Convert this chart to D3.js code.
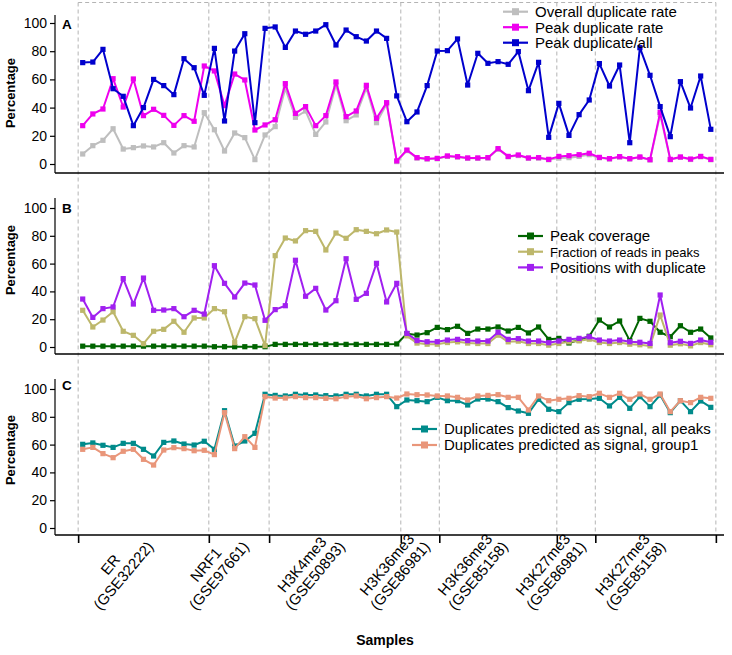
<!DOCTYPE html>
<html><head><meta charset="utf-8">
<script src="https://cdn.jsdelivr.net/npm/d3@7"></script>
<style>
body{margin:0;background:#fff}
svg{display:block}
text{font-family:"Liberation Sans",Arial,Helvetica,sans-serif;fill:#000}
</style>
</head><body>
<svg id="chart" width="732" height="655"></svg>
<script>
// ---------------- data ----------------
const sampleIndex = d3.range(1, 64);               // 63 samples
const groupBounds = [0.55, 13.45, 19.4, 32.4, 36.2, 47.8, 51.6, 63.5];
const groupLabels = [
  ["ER", "(GSE32222)"],
  ["NRF1", "(GSE97661)"],
  ["H3K4me3", "(GSE50893)"],
  ["H3K36me3", "(GSE86981)"],
  ["H3K36me3", "(GSE85158)"],
  ["H3K27me3", "(GSE86981)"],
  ["H3K27me3", "(GSE85158)"]
];
const yTicks = [0, 20, 40, 60, 80, 100];

// Panel A
const overallDuplicateRate = [7.1,13,16.8,25,10.6,11.6,12.8,12.1,15.1,7.8,13,12.1,36.4,24.3,9.2,22,18.7,3.1,20.6,26.5,53.5,33.1,37.6,21,29.8,56,30.7,34.8,54,29.3,42.6,1.7,
  9.5,4.2,3.5,3.7,5.4,4.9,4,4,4.2,10.5,5.1,6,4,4.2,3,4.2,4.5,5.4,6.6,4.4,3.5,4.9,3.5,4.7,2.8,35,3,4.7,3.2,5.1,3];
const peakDuplicateRate = [27.2,35.5,39,60.5,40.4,60.3,34.3,38.8,34.5,27.4,34.3,30.3,69.5,66,41.4,63.8,59.6,24.1,27.7,31.4,57,35.9,40.7,27.2,34.3,58.2,33.6,37.6,55.8,32.4,43.5,2.2,
  9.9,4.5,3.8,4,5.7,5.2,4.3,4.3,4.5,10.9,5.4,6.4,4.3,4.5,3.3,5.4,5.9,6.6,7.6,4.7,3.8,5.2,3.8,5,3.1,36.6,3.3,5,3.5,5.4,3.3];
const peakDuplicateAll = [71.9,72.3,81.3,53.4,48,27.2,40,60,55.6,49.2,74.7,68.3,48.7,82,30.5,80.1,92.4,29.3,96.2,97.2,82.7,94.3,92,94.3,98.8,84.4,95,90.3,87.2,94.3,89.1,48.3,
  30,36.9,55.6,80.1,80.4,88.7,56,78.5,71.4,72.6,70.7,79.7,52,72.1,18.9,43,20.3,35,45.4,71.2,55.3,70.2,15.1,82.5,62.9,40.7,19.4,58.4,39.7,62.4,24.6];

// Panel B
const peakCoverage = [0.6,0.6,0.6,0.6,0.6,0.6,0.6,0.6,0.6,0.6,0.6,0.6,0.6,0.2,0.2,0.2,0.2,0.2,0.2,1.9,1.9,1.9,1.9,1.9,1.9,1.9,1.9,1.9,1.9,1.9,1.9,2.2,
  9.6,8.6,10.3,14.1,12.5,14.9,9.8,12.9,12.9,14.4,11.5,14.1,10.1,14.4,5.5,6.2,2.9,5,7.7,19.4,14.4,18.7,4.6,20.6,18.5,10.6,7.4,15.3,10.6,12.9,6.5];
const fractionReadsInPeaks = [26.4,14.4,19.4,25.4,11.3,8.4,2.4,11.3,12.7,18.5,10.6,20.9,20.9,27.6,25.4,3.1,21.8,20.4,1,65.7,78.4,76.3,83.7,83.2,69.8,82,78.2,84.4,83.2,81.5,84.2,82.7,
  8,2.8,2,2,3.2,3.7,2.8,2.5,2.5,8.5,3.7,4.2,2.5,2.5,1.3,2.5,3.7,4.4,5.6,3.2,2.5,3.2,2,1.6,0.8,23,1.3,2.3,0.8,3.2,1.6];
const positionsWithDuplicate = [34.5,21.3,27.6,28.8,49.2,30.9,49.6,26.4,26.6,27.6,21.8,26.4,23.7,58.5,45.8,36,46,44.6,19.2,26.9,29.7,62.4,36.5,42.2,26.6,33.3,63.5,34.3,38.6,60.2,32.4,45.8,
  9.8,4.6,3.8,3.8,5,5.5,4.6,4.3,4.3,10.6,5.5,6,4.3,4.3,3.1,4.3,5.5,6.2,7.4,5,4.3,5,3.8,3.4,2.6,37.4,3.1,4.1,2.6,5,3.4];

// Panel C
const predictedSignalAllPeaks = [60.2,61.2,59.5,58,60.9,60.9,56.6,51.8,61.6,62.6,60.4,59.7,62.4,56.6,84.4,59,62.6,68.1,96.2,95.4,95,96.2,95.7,95.7,95.2,95,96.2,96.2,95,96.2,96.2,87.3,
  92.1,91.6,90.9,94,91.6,91.6,88.5,92.8,92.8,90.9,86.6,84.2,82.5,92.6,85.4,83.7,90.2,92.6,92.8,93.3,87.8,94,86.1,94.5,87.3,95.7,83,91.6,83.7,91.4,86.8];
const predictedSignalGroup1 = [56.6,58,53.5,50.6,55.2,56.6,49.4,45.3,56.1,57.8,57.1,55.6,55.9,52.8,83,57.1,65.7,58,94.5,93.5,93.5,94.5,93.8,93.8,93.3,93,94.5,95,93,93.8,94.5,93.5,
  96.4,95.9,95.7,95,95,94,92.1,95,95.4,95.9,94,94,84.9,95,91.6,92.6,93.3,95.2,94.5,96.9,94,96.9,92.6,96.4,92.6,96.4,83.7,91.6,90.2,94,93.3];

// ---------------- layout ----------------
const svg = d3.select("#chart");
const axisX = 55, axisRight = 724;
const x = d3.scaleLinear().domain([1, 63]).range([82.7, 710.8]);

const panels = [
  {letter:"A", top:15, bottom:173, y0:164, y100:23, letterY:29, titleY:93,
   series:[
     {name:"Overall duplicate rate", values:overallDuplicateRate, color:"#bebebe"},
     {name:"Peak duplicate rate", values:peakDuplicateRate, color:"#ee00ee"},
     {name:"Peak duplicate/all", values:peakDuplicateAll, color:"#0000cd"}],
   legend:{x:503, y:11.7, dy:15.5, sizes:[15,15,15]}},
  {letter:"B", top:198, bottom:354, y0:347, y100:208, letterY:213, titleY:260,
   series:[
     {name:"Peak coverage", values:peakCoverage, color:"#006400"},
     {name:"Fraction of reads in peaks", values:fractionReadsInPeaks, color:"#bdb76b"},
     {name:"Positions with duplicate", values:positionsWithDuplicate, color:"#a020f0"}],
   legend:{x:518, y:236, dy:15.7, sizes:[15,13,15]}},
  {letter:"C", top:379, bottom:535, y0:528, y100:389, letterY:389.5, titleY:450,
   series:[
     {name:"Duplicates predicted as signal, all peaks", values:predictedSignalAllPeaks, color:"#008b8b"},
     {name:"Duplicates predicted as signal, group1", values:predictedSignalGroup1, color:"#e9967a"}],
   legend:{x:412, y:429, dy:16, sizes:[15,15]}}
];

// background dashed group lines spanning the whole figure
const gridTop = 2.5, gridBottom = panels[2].bottom;
svg.append("g").selectAll("line").data(groupBounds).join("line")
  .attr("x1", d => x(d)).attr("x2", d => x(d))
  .attr("y1", gridTop).attr("y2", gridBottom)
  .attr("stroke", "#b4b4b4").attr("stroke-width", 1).attr("stroke-dasharray", "4,3");
svg.append("line")
  .attr("x1", x(groupBounds[0])).attr("x2", x(groupBounds[groupBounds.length-1]))
  .attr("y1", gridTop).attr("y2", gridTop)
  .attr("stroke", "#b4b4b4").attr("stroke-width", 1).attr("stroke-dasharray", "4,3");

panels.forEach((p, pi) => {
  const y = d3.scaleLinear().domain([0, 100]).range([p.y0, p.y100]);
  const g = svg.append("g");

  // y axis
  const ax = g.append("g").attr("transform", `translate(${axisX},0)`)
    .call(d3.axisLeft(y).tickValues(yTicks).tickSize(5).tickPadding(3));
  ax.select(".domain").remove();
  ax.selectAll(".tick line").attr("stroke", "#000").attr("stroke-width", 1.2);
  ax.selectAll(".tick text").attr("font-size", 14).attr("font-family", '"Liberation Sans",Arial,sans-serif').attr("fill", "#000");
  g.append("line").attr("x1", axisX).attr("x2", axisX).attr("y1", p.top).attr("y2", p.bottom)
    .attr("stroke", "#000").attr("stroke-width", 1.2);
  g.append("line").attr("x1", axisX).attr("x2", axisRight).attr("y1", p.bottom).attr("y2", p.bottom)
    .attr("stroke", "#000").attr("stroke-width", 1.6);

  // y title
  g.append("text").attr("transform", `translate(14.5,${p.titleY}) rotate(-90)`)
    .attr("text-anchor", "middle").attr("font-weight", "bold").attr("font-size", 13).text("Percentage");
  // panel letter
  g.append("text").attr("x", 62).attr("y", p.letterY).attr("font-weight", "bold").attr("font-size", 13.5).text(p.letter);

  // series
  const line = d3.line().x((d, i) => x(sampleIndex[i])).y(d => y(d));
  p.series.forEach(s => {
    g.append("path").datum(s.values).attr("d", line)
      .attr("fill", "none").attr("stroke", s.color).attr("stroke-width", 2).attr("stroke-linejoin", "round");
    g.append("g").selectAll("rect").data(s.values).join("rect")
      .attr("x", (d, i) => x(sampleIndex[i]) - 2.6).attr("y", d => y(d) - 2.6)
      .attr("width", 5.2).attr("height", 5.2).attr("fill", s.color);
  });

  // legend
  const lg = g.append("g");
  p.series.forEach((s, i) => {
    const ly = p.legend.y + i * p.legend.dy;
    lg.append("line").attr("x1", p.legend.x).attr("x2", p.legend.x + 25).attr("y1", ly).attr("y2", ly)
      .attr("stroke", s.color).attr("stroke-width", 2.2);
    lg.append("rect").attr("x", p.legend.x + 12.5 - 3.5).attr("y", ly - 3.5).attr("width", 7).attr("height", 7).attr("fill", s.color);
    lg.append("text").attr("x", p.legend.x + 32).attr("y", ly + 5.3).attr("font-size", p.legend.sizes[i]).text(s.name);
  });
});

// bottom x axis ticks (group boundaries)
const xb = svg.append("g").attr("transform", `translate(0,${panels[2].bottom})`)
  .call(d3.axisBottom(x).tickValues(groupBounds).tickSize(8).tickFormat(""));
xb.select(".domain").remove();
xb.selectAll(".tick line").attr("stroke", "#000").attr("stroke-width", 1.6);

// rotated two-line group labels
const labelY = 538, lh = 17, angle = -50;
groupLabels.forEach((lab, gi) => {
  const cx = x((groupBounds[gi] + groupBounds[gi + 1]) / 2);
  const g = svg.append("g").attr("transform", `translate(${cx},${labelY}) rotate(${angle})`);
  const texts = lab.map((t, li) => g.append("text").attr("font-size", 15)
    .attr("text-anchor", "middle").attr("dominant-baseline", "central")
    .attr("y", (li - (lab.length - 1) / 2) * lh).text(t));
  const w = d3.max(texts, t => t.node().getComputedTextLength());
  texts.forEach(t => t.attr("x", -w / 2));
});

svg.append("text").attr("x", 385).attr("y", 645).attr("text-anchor", "middle")
  .attr("font-weight", "bold").attr("font-size", 14).text("Samples");
</script>
</body></html>
